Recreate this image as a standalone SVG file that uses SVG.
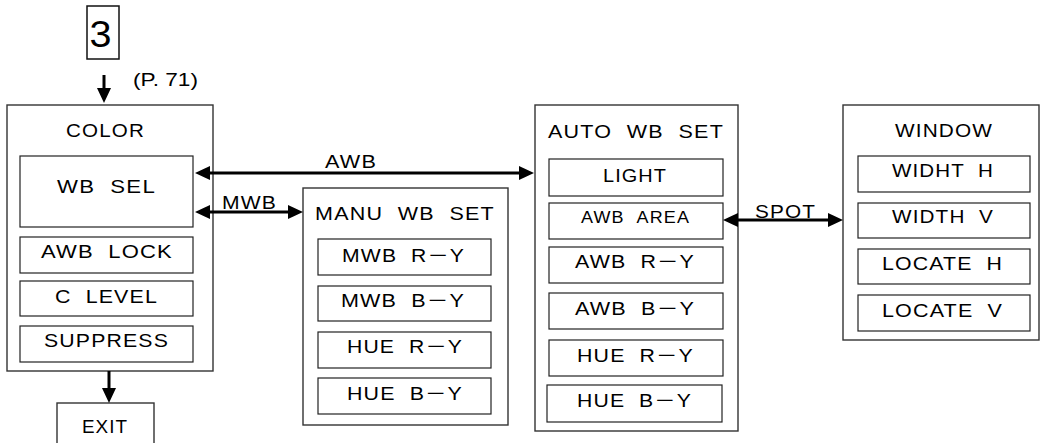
<svg xmlns="http://www.w3.org/2000/svg" width="1041" height="443" viewBox="0 0 1041 443">
<defs>
<style>
.box{fill:#fff;stroke:#333;stroke-width:1.4}
.item{fill:#fff;stroke:#222;stroke-width:1.2}
text{font-family:"Liberation Sans",Arial,"Noto Sans CJK JP",sans-serif;font-size:18.5px;fill:#000;letter-spacing:1px;word-spacing:6px}
.title{font-size:17.5px}
.small{font-size:16px}
.conn{stroke:#000;stroke-width:3;fill:none}
</style>
<marker id="ah" viewBox="0 0 15 14" markerWidth="15" markerHeight="14" refX="7" refY="7" markerUnits="userSpaceOnUse" orient="auto-start-reverse">
<path d="M0,0 L15,7 L0,14 z" fill="#000"/>
</marker>
</defs>
<rect width="1041" height="443" fill="#fff"/>

<g id="step3">
<rect x="87" y="6" width="32" height="53" fill="#fff" stroke="#111" stroke-width="1.5"/>
<text x="89.5" y="47" style="font-size:37px;letter-spacing:0" textLength="22" lengthAdjust="spacingAndGlyphs">3</text>
<text x="133" y="86" style="font-size:18px;letter-spacing:0;word-spacing:0" textLength="65" lengthAdjust="spacingAndGlyphs">(P. 71)</text>
</g>

<g id="color">
<rect class="box" x="7" y="105" width="206" height="266"/>
<text class="title" x="66" y="137" textLength="79" lengthAdjust="spacingAndGlyphs">COLOR</text>
<g id="wbsel"><rect class="item" x="20" y="156" width="173" height="71"/><text class="title" x="57" y="193" textLength="99" lengthAdjust="spacingAndGlyphs">WB SEL</text></g>
<g id="awblock"><rect class="item" x="20" y="237" width="173" height="36"/><text x="41" y="258" textLength="132" lengthAdjust="spacingAndGlyphs">AWB LOCK</text></g>
<g id="clevel"><rect class="item" x="20" y="281" width="173" height="35"/><text x="55" y="303" textLength="103" lengthAdjust="spacingAndGlyphs">C LEVEL</text></g>
<g id="suppress"><rect class="item" x="20" y="326" width="173" height="36"/><text x="44" y="347" textLength="125" lengthAdjust="spacingAndGlyphs">SUPPRESS</text></g>
</g>

<g id="exit">
<rect class="box" x="57" y="403" width="97" height="50"/>
<text x="82" y="433" textLength="46" lengthAdjust="spacingAndGlyphs">EXIT</text>
</g>

<g id="manu">
<rect class="box" x="303" y="188" width="205" height="237"/>
<text class="title" x="315" y="220" textLength="180" lengthAdjust="spacingAndGlyphs">MANU WB SET</text>
<g id="mwbry"><rect class="item" x="318" y="239" width="173" height="36"/><text x="342" y="262" textLength="123" lengthAdjust="spacingAndGlyphs">MWB R－Y</text></g>
<g id="mwbby"><rect class="item" x="318" y="286" width="173" height="35"/><text x="341" y="307" textLength="124" lengthAdjust="spacingAndGlyphs">MWB B－Y</text></g>
<g id="mhuery"><rect class="item" x="318" y="332" width="173" height="36"/><text x="347" y="353" textLength="116" lengthAdjust="spacingAndGlyphs">HUE R－Y</text></g>
<g id="mhueby"><rect class="item" x="318" y="378" width="173" height="36"/><text x="347" y="400" textLength="116" lengthAdjust="spacingAndGlyphs">HUE B－Y</text></g>
</g>

<g id="auto">
<rect class="box" x="535" y="105" width="203" height="326"/>
<text class="title" x="548" y="138" textLength="176" lengthAdjust="spacingAndGlyphs">AUTO WB SET</text>
<g id="light"><rect class="item" x="549" y="159" width="174" height="37"/><text x="603" y="182" textLength="64" lengthAdjust="spacingAndGlyphs">LIGHT</text></g>
<g id="awbarea"><rect class="item" x="549" y="203" width="174" height="36"/><text class="small" x="581" y="223" textLength="109" lengthAdjust="spacingAndGlyphs">AWB AREA</text></g>
<g id="awbry"><rect class="item" x="549" y="247" width="174" height="36"/><text x="575" y="268" textLength="120" lengthAdjust="spacingAndGlyphs">AWB R－Y</text></g>
<g id="awbby"><rect class="item" x="549" y="293" width="174" height="36"/><text x="575" y="315" textLength="120" lengthAdjust="spacingAndGlyphs">AWB B－Y</text></g>
<g id="ahuery"><rect class="item" x="549" y="340" width="174" height="36"/><text x="577" y="362" textLength="117" lengthAdjust="spacingAndGlyphs">HUE R－Y</text></g>
<g id="ahueby"><rect class="item" x="547" y="385" width="175" height="37"/><text x="577" y="407" textLength="115" lengthAdjust="spacingAndGlyphs">HUE B－Y</text></g>
</g>

<g id="window">
<rect class="box" x="843" y="105" width="196" height="235"/>
<text x="895" y="137" textLength="98" lengthAdjust="spacingAndGlyphs">WINDOW</text>
<g id="widthh"><rect class="item" x="858" y="156" width="172" height="36"/><text x="892" y="177" textLength="102" lengthAdjust="spacingAndGlyphs">WIDHT H</text></g>
<g id="widthv"><rect class="item" x="858" y="203" width="172" height="35"/><text x="892" y="223" textLength="102" lengthAdjust="spacingAndGlyphs">WIDTH V</text></g>
<g id="locateh"><rect class="item" x="858" y="249" width="172" height="35"/><text x="882" y="270" textLength="121" lengthAdjust="spacingAndGlyphs">LOCATE H</text></g>
<g id="locatev"><rect class="item" x="858" y="295" width="172" height="36"/><text x="882" y="317" textLength="121" lengthAdjust="spacingAndGlyphs">LOCATE V</text></g>
</g>

<g id="connectors">
<line class="conn" x1="104" y1="75" x2="104" y2="95" marker-end="url(#ah)"/>
<line class="conn" x1="109" y1="371" x2="109" y2="395" marker-end="url(#ah)"/>
<line class="conn" x1="203" y1="173" x2="526" y2="173" marker-start="url(#ah)" marker-end="url(#ah)"/>
<text x="325" y="168" textLength="52" lengthAdjust="spacingAndGlyphs">AWB</text>
<line class="conn" x1="203" y1="212" x2="295" y2="212" marker-start="url(#ah)" marker-end="url(#ah)"/>
<text x="222" y="209" textLength="55" lengthAdjust="spacingAndGlyphs">MWB</text>
<line class="conn" x1="731" y1="220" x2="835" y2="220" marker-start="url(#ah)" marker-end="url(#ah)"/>
<text x="755" y="218" textLength="61" lengthAdjust="spacingAndGlyphs">SPOT</text>
</g>
</svg>
